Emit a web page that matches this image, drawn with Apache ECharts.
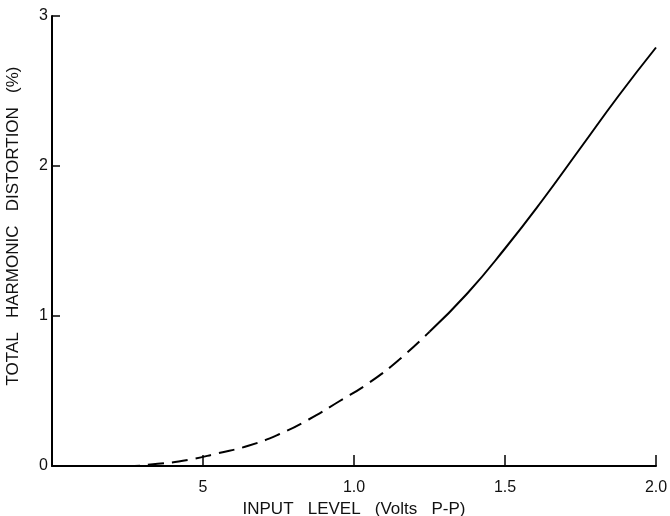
<!DOCTYPE html>
<html>
<head>
<meta charset="utf-8">
<script src="https://cdn.jsdelivr.net/npm/echarts@6/dist/echarts.min.js"></script>
<style>
html,body{margin:0;padding:0;background:#fff;}
#c{width:670px;height:516px;}
</style>
</head>
<body>
<div id="c"></div>
<script>
// Dashed (lower) part of the curve
var dashX = [0, 0.25, 0.35, 0.45, 0.55, 0.65, 0.75, 0.85, 0.95, 1.05, 1.15, 1.25];
var dashY = [0, 0, 0.015, 0.04, 0.085, 0.135, 0.21, 0.31, 0.43, 0.555, 0.71, 0.895];
// Solid (upper) part of the curve
var solidX = [1.25, 1.375, 1.5, 1.625, 1.75, 1.875, 2.0];
var solidY = [0.895, 1.15, 1.45, 1.775, 2.12, 2.465, 2.79];
// Tick labels
var xTickLabels = ['', '5', '1.0', '1.5', '2.0'];
var yTickLabels = ['0', '1', '2', '3'];

function pairs(xs, ys) { return xs.map(function (x, i) { return [x, ys[i]]; }); }

var font = 'Liberation Sans, Arial, sans-serif';
var chart = echarts.init(document.getElementById('c'), null, {renderer: 'canvas'});
chart.setOption({
  animation: false,
  backgroundColor: '#fff',
  grid: {left: 52, right: 14, top: 16, bottom: 50, containLabel: false, outerBoundsMode: 'none'},
  xAxis: {
    type: 'value', min: 0, max: 2, interval: 0.5,
    name: 'INPUT   LEVEL   (Volts   P-P)', nameLocation: 'middle', nameGap: 34,
    nameTextStyle: {fontFamily: font, fontSize: 17, color: '#111'},
    axisLine: {show: true, onZero: false, lineStyle: {color: '#000', width: 2}},
    axisTick: {show: true, inside: true, length: 11, lineStyle: {color: '#000', width: 1.5}},
    axisLabel: {
      margin: 14, fontFamily: font, fontSize: 16, color: '#111',
      formatter: function (v) { var i = Math.round(v / 0.5); return xTickLabels[i] || ''; }
    },
    splitLine: {show: false}
  },
  yAxis: {
    type: 'value', min: 0, max: 3, interval: 1,
    name: 'TOTAL   HARMONIC   DISTORTION   (%)', nameLocation: 'middle', nameGap: 30,
    nameTextStyle: {fontFamily: font, fontSize: 17, color: '#111', padding: [0, 0, 0, 30]},
    axisLine: {show: true, lineStyle: {color: '#000', width: 2}},
    axisTick: {show: true, inside: true, length: 8, lineStyle: {color: '#000', width: 1.5}},
    axisLabel: {
      margin: 4, fontFamily: font, fontSize: 16, color: '#111',
      formatter: function (v) { return yTickLabels[Math.round(v)] || ''; }
    },
    splitLine: {show: false}
  },
  series: [
    {
      type: 'line', data: pairs(dashX, dashY), smooth: true, showSymbol: false,
      lineStyle: {color: '#000', width: 2, type: [16, 8]}
    },
    {
      type: 'line', data: pairs(solidX, solidY), smooth: true, showSymbol: false,
      lineStyle: {color: '#000', width: 2, type: 'solid'}
    }
  ]
});
</script>
</body>
</html>
